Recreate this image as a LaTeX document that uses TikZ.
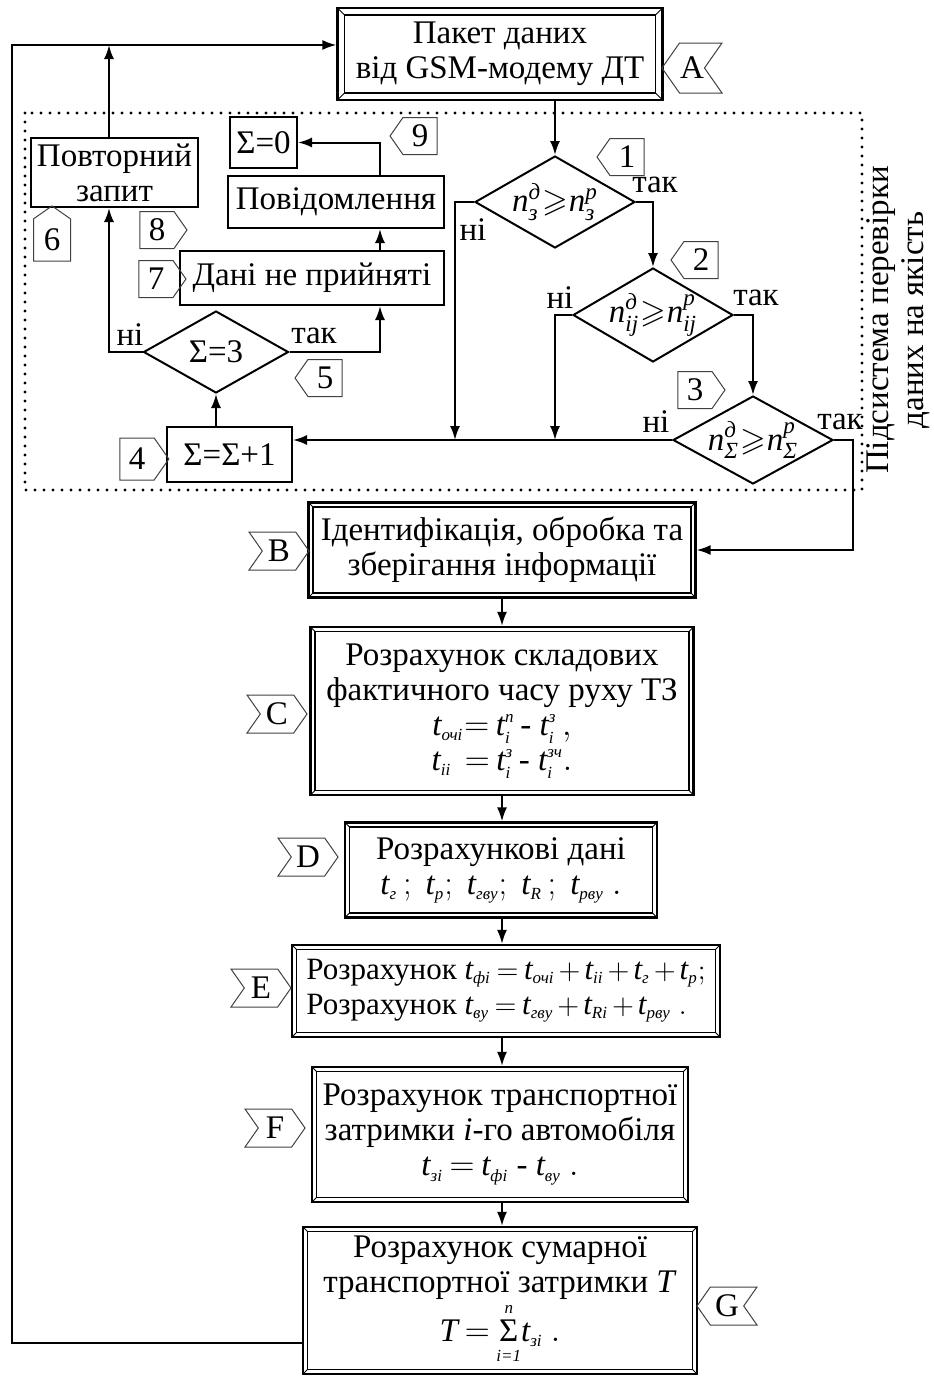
\documentclass[tikz,border=0pt]{standalone}
\usepackage{amsmath,amssymb}
\usepackage{fontspec}
\setmainfont{Liberation Serif}
\usetikzlibrary{shapes.geometric,shapes.symbols,arrows.meta}

\newcommand\ivar[1]{\text{\itshape #1}}
\newcommand\sub[1]{\mbox{\fontsize{8.5}{8.5}\selectfont\itshape #1}}
\newcommand\tv[1]{\ivar{t}_{\sub{#1}}}
\newcommand\tvs[2]{\ivar{t}_{\sub{#1}}^{\sub{#2}}}
\newcommand\nv[2]{\ivar{n}_{\ivar{#1}}^{\ivar{#2}}}

\tikzset{
  box/.style={draw, line width=1pt, inner sep=1pt, align=center},
  dbox/.style={draw, line width=1.1pt, inner sep=1pt, align=center,
    path picture={
      \draw[line width=0.7pt] ([shift={(#1,-#1)}]path picture bounding box.north west)
        rectangle ([shift={(-#1,#1)}]path picture bounding box.south east);
      \draw[line width=0.5pt] (path picture bounding box.north west) -- ++(#1,-#1)
        (path picture bounding box.north east) -- ++(-#1,-#1)
        (path picture bounding box.south west) -- ++(#1,#1)
        (path picture bounding box.south east) -- ++(-#1,#1);
    }},
  dbox/.default=2.2pt,
  cond/.style={draw, diamond, line width=1pt, inner sep=0pt, shape aspect=2},
  flag/.style={draw=black!75, line width=0.5pt, signal, signal pointer angle=110, inner sep=0pt},
  sz/.style 2 args={minimum width=#1, minimum height=#2},
}

\begin{document}
\begin{tikzpicture}[>={Latex[length=7pt,width=5pt]}, x=0.5pt, y=-0.5pt,
    font=\fontsize{16.5}{17.5}\selectfont, line width=1pt]
  \useasboundingbox (0,0) rectangle (933,1376);
  \medmuskip=2.5mu \thickmuskip=3.5mu

  % subsystem of data check
  \draw[line width=1.6pt, dash pattern=on 0pt off 4.5pt, line cap=round] (25,113) rectangle (862,490);
  \node[rotate=90, align=center] (sub) at (898,320) {Підсистема перевірки\\даних на якість};

  % main column
  \node[dbox=3.5pt, sz={162.5pt}{46pt}] (pak) at (500,54) {Пакет даних\\від GSM-модему ДТ};
  \node[dbox, sz={193.5pt}{47.5pt}] (B) at (502,550) {Ідентифікація, обробка та\\зберігання інформації};
  \node[dbox, sz={191.5pt}{84pt}] (C) at (502,711) {Розрахунок складових\\фактичного часу руху ТЗ\\
    $\tv{очі}\!= \tvs{i}{п}\,\text{- }\tvs{i}{з}\,,$\\ $\tv{іі}\;= \tvs{i}{з}\,\text{- }\tvs{i}{зч}.$};
  \node[dbox, sz={156pt}{47.5pt}] (D) at (501,870) {Розрахункові дані\\
    $\tv{г}\,;\ \tv{р};\ \tv{гву};\ \tv{R}\,;\ \tv{рву}\ .$};
  \node[dbox, sz={214pt}{46pt}, align=left, font=\fontsize{15.5}{17.5}\selectfont] (E) at (506,991)
    {Розрахунок $\tv{фі} = \tv{очі} + \tv{іі} + \tv{г} + \tv{р};$\\
    Розрахунок $\tv{ву} = \tv{гву} + \tv{Ri} + \tv{рву}\ .$};
  \node[dbox, sz={188pt}{67.5pt}] (F) at (500,1134.5) {Розрахунок транспортної\\затримки \textit{i}-го автомобіля\\
    $\tv{зі} = \tv{фі}\text{ - }\tv{ву}\ .$};
  \node[dbox, sz={197pt}{73.5pt}] (G) at (500,1300.5) {Розрахунок сумарної\\транспортної затримки \textit{T}\\
    $\ivar{T} =\mathop{\text{Σ}}\limits_{\sub{i=1}}^{\sub{n}}\!\tv{зі}\ .$};

  % checks
  \node[cond, sz={80pt}{46pt}] (d1) at (555,202) {\makebox[0pt]{$\nv{з}{д}\!\geqslant\!\nv{з}{p}$}};
  \node[cond, sz={80pt}{47pt}] (d2) at (653,315) {\makebox[0pt]{$\nv{ij}{д}\!\geqslant\!\nv{ij}{p}$}};
  \node[cond, sz={80pt}{44pt}] (d3) at (753,440) {\makebox[0pt]{$\nv{Σ}{д}\!\geqslant\!\nv{Σ}{p}$}};
  \node[cond, sz={72.5pt}{41pt}] (d4) at (216,352) {\makebox[0pt]{Σ=3}};
  \node[box, sz={62.5pt}{27.5pt}] (inc) at (229.5,454.5) {Σ=Σ+1};
  \node[box, sz={132pt}{27pt}] (rej) at (312,278) {Дані не прийняті};
  \node[box, sz={108pt}{26pt}] (msg) at (336,202) {Повідомлення};
  \node[box, sz={33.5pt}{25.5pt}] (zero) at (263.5,142.5) {Σ=0};
  \node[box, sz={83.5pt}{34.5pt}] (rep) at (114.5,172.5) {Повторний\\запит};

  % yes / no
  \node (y1) at (655,185) {так};
  \node (n1) at (473,230) {ні};
  \node (n2) at (560,298) {ні};
  \node (y2) at (756,298) {так};
  \node (n3) at (656,422) {ні};
  \node (y3) at (840,422) {так};
  \node (n4) at (130,335) {ні};
  \node (y4) at (314,336) {так};

  % flags
  \node[flag, signal to=west, signal from=east, sz={30pt}{25pt}] (fA) at (692,68) {A};
  \node[flag, signal to=west, signal from=east, sz={30pt}{19pt}] (fG) at (727,1306) {G};
  \foreach \l/\x/\y in {B/279/551, C/277/714, D/308/857, E/261/988, F/275/1128}
    \node[flag, signal to=east, signal from=west, sz={30pt}{19pt}] (f\l) at (\x,\y) {\l};
  \foreach \l/\x/\y/\d in {1/627/157/west, 2/701/260/west, 3/695/390/east, 5/325/378/west,
      7/156/279/east, 8/157/230/east, 9/420/136/west}
    \node[flag, signal to=\d, sz={23.5pt}{18.5pt}] (f\l) at (\x,\y) {\l};
  \node[flag, signal to=east, sz={24.5pt}{21pt}] (f4) at (137,459) {4};
  \node[flag, signal to=north, sz={18.5pt}{24pt}] (f6) at (52,240) {6};

  % connectors
  \coordinate (tl) at (12,45);
  \coordinate (bl) at (12,1343);
  \coordinate (j1) at (455,440);
  \coordinate (j2) at (555,440);
  \coordinate (cR) at (853,0);
  \coordinate (cL) at (109,0);
  \coordinate (cM) at (380,0);
  \coordinate (col) at (502,0);

  \draw[->] (d1.north |- pak.south) -- (d1.north);
  \draw[->] (d1.east) -| (d2.north);
  \draw[->] (d2.east) -| (d3.north);
  \draw[->] (d1.west) -| (j1);
  \draw[->] (d2.west) -| (j2);
  \draw[->] (d3.west) -- (d3.west -| inc.east);
  \draw[->] (d3.east) -| (cR |- B.east) -- (B.east);
  \draw[->] (d4.south |- inc.north) -- (d4.south);
  \draw[->] (d4.west) -| (cL |- rep.south);
  \draw[->] (d4.east) -| (cM |- rej.south);
  \draw[->] (cM |- rej.north) -- (cM |- msg.south);
  \draw[->] (cM |- msg.north) |- (zero.east);
  \draw[->] (cL |- rep.north) -- (cL |- tl);
  \draw[->] (bl -| G.west) -- (bl) -- (tl) -- (tl -| pak.west);
  \foreach \a/\b in {B/C, C/D, D/E, E/F, F/G}
    \draw[->] (col |- \a.south) -- (col |- \b.north);
\end{tikzpicture}
\end{document}
